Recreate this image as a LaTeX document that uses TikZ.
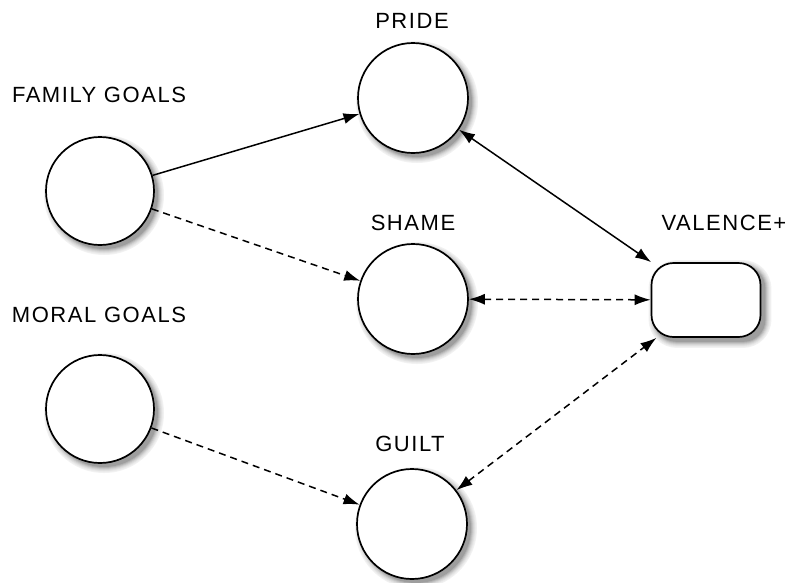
\documentclass[tikz,border=0pt]{standalone}
\usepackage{fontspec}
\setmainfont{Liberation Sans}[LetterSpace=7]
\usetikzlibrary{arrows.meta,backgrounds}
% graded grey drop shadow behind a round node: #1 node name, #2 diameter in pt
\newcommand\roundshadow[2]{%
  \foreach \grow/\shade in {12/5,10/8,8/12,6/17,4/23,2/30,0/38}{%
    \pgfmathsetmacro\shadowsize{#2+\grow}%
    \node[circle,fill=black!\shade,draw=none,inner sep=0pt,minimum size=\shadowsize pt]
      at ([xshift=4pt,yshift=-4pt]#1.center) {};
  }%
}
\begin{document}
\begin{tikzpicture}[x=1pt,y=-1pt,
  every node/.style={font=\fontsize{22}{25}\selectfont},
  goal/.style={circle,draw,line width=1.7pt,fill=white,minimum size=108pt,inner sep=0pt},
  emo/.style={goal,minimum size=110pt},
  valbox/.style={rectangle,rounded corners=22pt,draw,line width=1.7pt,fill=white,
    minimum width=109pt,minimum height=74pt},
  lbl/.style={inner sep=0pt},
  tip/.style={-{Latex[length=16pt,width=11pt]}},
  dtip/.style={{Latex[length=16pt,width=11pt]}-{Latex[length=16pt,width=11pt]}},
  link/.style={line width=1.5pt},
  dlink/.style={line width=1.5pt,dash pattern=on 7pt off 5pt}]
  \useasboundingbox (0,0) rectangle (788,582);

  % nodes
  \node[goal] (family) at (100,191) {};
  \node[goal] (moral)  at (100,409) {};
  \node[emo]  (pride)  at (413,98)  {};
  \node[emo]  (shame)  at (413,299) {};
  \node[emo]  (guilt)  at (412,524) {};
  \node[valbox] (valence) at (706,300) {};

  % soft drop shadows: grey copies offset down-right, widening and fading outwards
  \begin{scope}[on background layer]
    \roundshadow{family}{108}
    \roundshadow{moral}{108}
    \roundshadow{pride}{110}
    \roundshadow{shame}{110}
    \roundshadow{guilt}{110}
    \foreach \grow/\shade in {6/5,5/8,4/12,3/17,2/23,1/30,0/38}{
      \fill[black!\shade,rounded corners=22pt+\grow pt]
        ([shift={(4pt-\grow pt,-4pt+\grow pt)}]valence.north west) rectangle
        ([shift={(4pt+\grow pt,-4pt-\grow pt)}]valence.south east);
    }
  \end{scope}

  % labels
  \node[lbl] (lfamily)  at (99,95)   {FAMILY GOALS};
  \node[lbl] (lmoral)   at (99,315)  {MORAL GOALS};
  \node[lbl] (lpride)   at (412,21)  {PRIDE};
  \node[lbl] (lshame)   at (413,223) {SHAME};
  \node[lbl] (lguilt)   at (410,444) {GUILT};
  \node[lbl] (lvalence) at (724,223) {VALENCE+};

  % connectors
  \draw[link,tip]   (family) -- (pride);
  \draw[dlink,tip]  (family) -- (shame);
  \draw[dlink,tip]  (moral)  -- (guilt);
  \draw[link,dtip]  (pride)  -- (valence);
  \draw[dlink,dtip] (shame)  -- (valence);
  \draw[dlink,dtip] (guilt)  -- (valence);
\end{tikzpicture}
\end{document}
